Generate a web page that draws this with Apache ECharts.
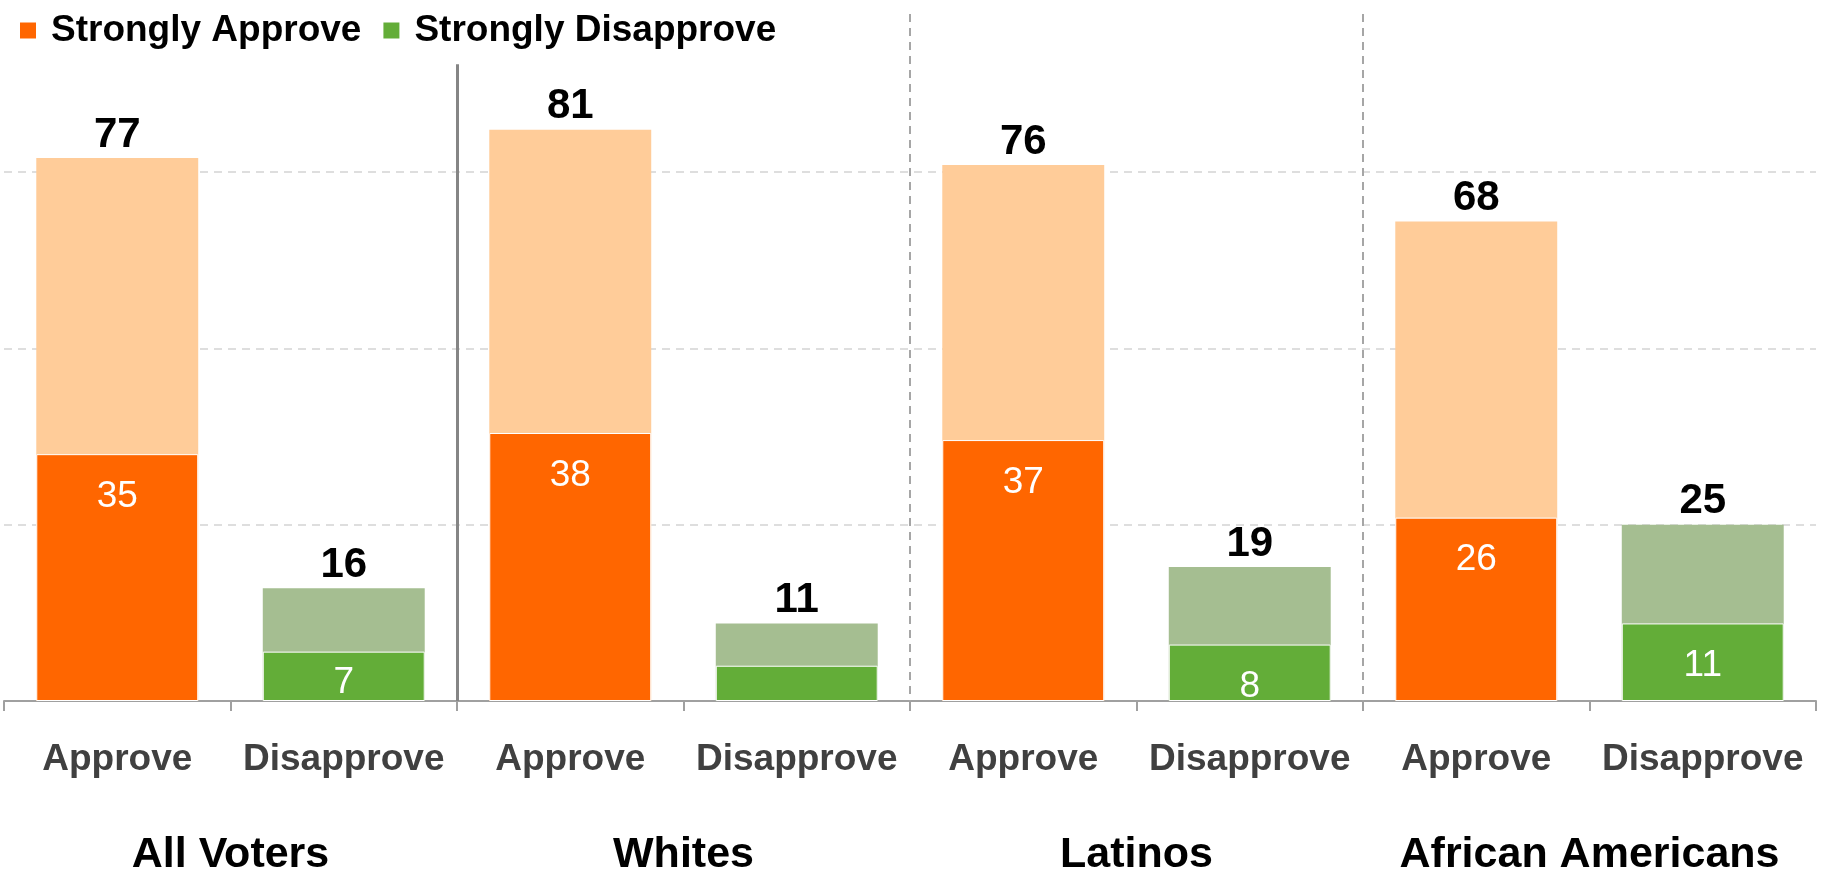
<!DOCTYPE html>
<html>
<head>
<meta charset="utf-8">
<script src="https://cdn.jsdelivr.net/npm/echarts@6/dist/echarts.min.js"></script>
<style>
html,body{margin:0;padding:0;background:#fff;}
#chart{width:1822px;height:877px;}
</style>
</head>
<body>
<div id="chart"></div>
<script>
const categories = ['Approve','Disapprove','Approve','Disapprove','Approve','Disapprove','Approve','Disapprove'];
const groups = ['All Voters','Whites','Latinos','African Americans'];
const totalValues = [77,16,81,11,76,19,68,25];
const strongValues = [35,7,38,5,37,8,26,11];
const unlabeledStrong = [false,false,false,true,false,false,false,false];
const gridValues = [25,50,75];
const separatorAt = [2,4,6];

const FONT = "'Liberation Sans', Arial, sans-serif";
const C = {
  approve: '#FF6600', approveLight: '#FFCC99',
  disapprove: '#63AD38', disapproveLight: '#A5BE91'
};

function pick(arr, kind) {
  return arr.map((v, i) => (categories[i] === kind ? v : '-'));
}
function strongData(kind) {
  return strongValues.map((v, i) => {
    if (categories[i] !== kind) return '-';
    if (unlabeledStrong[i]) return { value: v, label: { show: false } };
    if (v < 8) return { value: v, label: { distance: 13 } };
    return v;
  });
}
const totalLabel = {
  show: true, position: 'top', distance: 2,
  fontFamily: FONT, fontWeight: 'bold', fontSize: 42, color: '#000'
};
const strongLabel = {
  show: true, position: 'insideTop', distance: 24,
  fontFamily: FONT, fontSize: 37, color: '#fff'
};

const sepLines = separatorAt.map((x, i) => {
  const solid = i === 0;
  return [
    { coord: [x, solid ? 90.3 : 97.4],
      lineStyle: solid ? { type: 'solid', color: '#858585', width: 3 }
                       : { type: [8, 6], color: '#A6A6A6', width: 2 } },
    { coord: [x, 0] }
  ];
});
const gridLines = gridValues.map(v => ({ yAxis: v }));

const chart = echarts.init(document.getElementById('chart'));
chart.setOption({
  animation: false,
  backgroundColor: '#fff',
  textStyle: { fontFamily: FONT },
  legend: {
    data: ['Strongly Approve', 'Strongly Disapprove'],
    left: 13, top: 7,
    icon: 'rect', itemWidth: 18, itemHeight: 18, itemGap: 20,
    textStyle: { fontFamily: FONT, fontWeight: 'bold', fontSize: 37, color: '#000', padding: [0, 0, 0, 9] }
  },
  grid: { left: 4, right: 6, top: 0, bottom: 175, containLabel: false },
  xAxis: [
    {
      type: 'category', data: categories, position: 'bottom',
      axisLine: { lineStyle: { color: '#A0A0A0', width: 2 } },
      axisTick: { show: true, length: 10, lineStyle: { color: '#A0A0A0', width: 2 } },
      axisLabel: { interval: 0, margin: 40, fontFamily: FONT, fontWeight: 'bold', fontSize: 37, color: '#404040' }
    },
    {
      type: 'category', data: groups, position: 'bottom', gridIndex: 0,
      axisLine: { show: false }, axisTick: { show: false },
      axisLabel: { interval: 0, margin: 133, fontFamily: FONT, fontWeight: 'bold', fontSize: 43, color: '#000' }
    },
    {
      type: 'value', min: 0, max: 8, show: false
    }
  ],
  yAxis: {
    type: 'value', min: 0, max: 99.4,
    axisLine: { show: false }, axisTick: { show: false }, axisLabel: { show: false },
    splitLine: { show: false }
  },
  series: [
    { name: 'Approve total', type: 'bar', xAxisIndex: 0, data: pick(totalValues, 'Approve'),
      barGap: '-100%', barCategoryGap: '28.5%', itemStyle: { color: C.approveLight }, label: totalLabel,
      markLine: { silent: true, symbol: ['none', 'none'], label: { show: false }, z: 0,
        lineStyle: { color: '#D4D4D4', type: [8, 6], width: 1.5 }, data: gridLines } },
    { name: 'Disapprove total', type: 'bar', xAxisIndex: 0, data: pick(totalValues, 'Disapprove'),
      barGap: '-100%', barCategoryGap: '28.5%', itemStyle: { color: C.disapproveLight }, label: totalLabel },
    { name: 'Strongly Approve', type: 'bar', xAxisIndex: 0, data: strongData('Approve'),
      barGap: '-100%', barCategoryGap: '28.5%',
      itemStyle: { color: C.approve, borderColor: '#fff', borderWidth: 1 }, label: strongLabel },
    { name: 'Strongly Disapprove', type: 'bar', xAxisIndex: 0, data: strongData('Disapprove'),
      barGap: '-100%', barCategoryGap: '28.5%',
      itemStyle: { color: C.disapprove, borderColor: '#fff', borderWidth: 1 }, label: strongLabel },
    { name: 'separators', type: 'scatter', xAxisIndex: 2, yAxisIndex: 0, data: [], silent: true,
      markLine: { silent: true, symbol: ['none', 'none'], label: { show: false }, data: sepLines } }
  ]
});
</script>
</body>
</html>
